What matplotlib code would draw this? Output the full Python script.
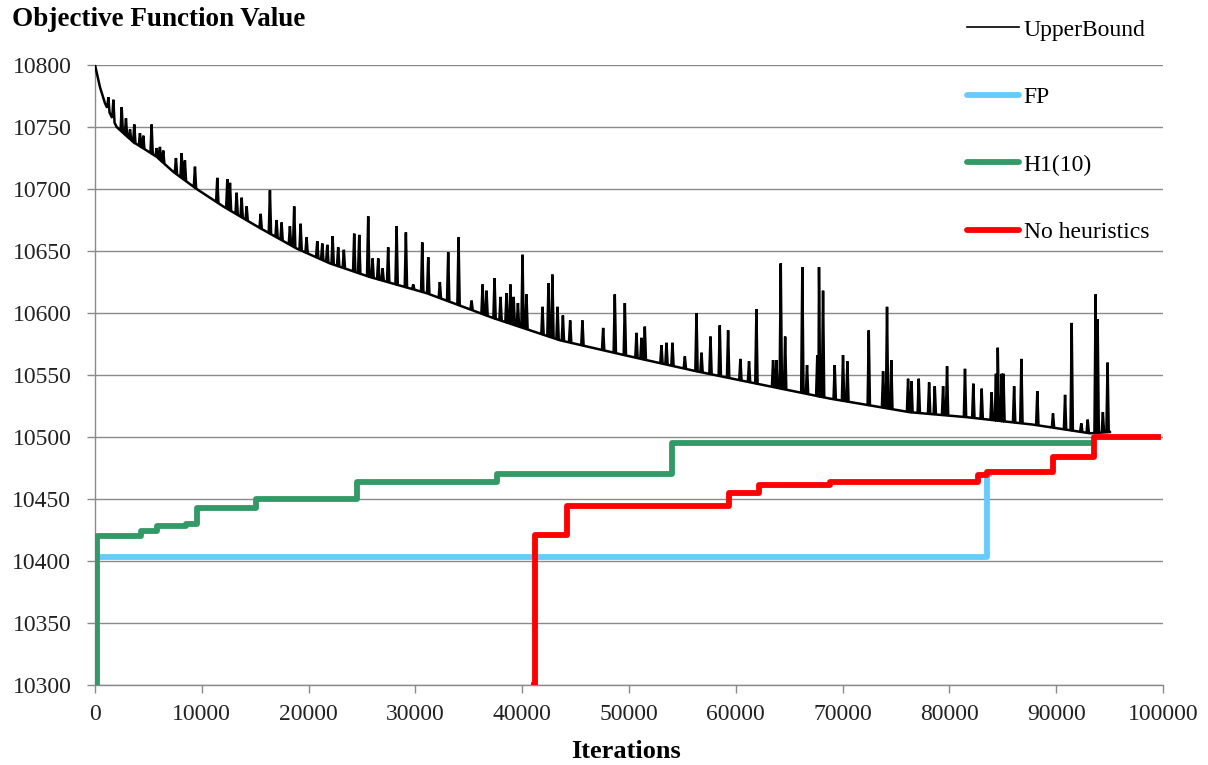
import numpy as np
import matplotlib
matplotlib.use("Agg")
import matplotlib.pyplot as plt
from matplotlib.lines import Line2D

# ---------------- data ----------------
# UpperBound: lower envelope of the decaying curve
ub_base_x = [0, 470, 940, 2030, 3560, 5770, 7310, 9520, 12000, 15140, 18880,
             22000, 25750, 31050, 37270, 43540, 50090, 56320, 62530, 68800,
             76290, 81610, 87830, 93160, 95030]
ub_base_y = [10800, 10782, 10769, 10750, 10738, 10726, 10714, 10700, 10686,
             10670, 10652, 10640, 10629, 10616, 10596, 10578, 10565, 10553,
             10542, 10531, 10520, 10516, 10510, 10503, 10504]

# UpperBound spikes: iteration and peak value
ub_spike_x = [1250, 1720, 2500, 2900, 3280, 3680, 4210, 4520, 5300, 5770, 6080,
              6390, 7580, 8110, 8420, 9360, 11450, 12390, 12640, 13260, 13730,
              14200, 15510, 16380, 17000, 17470, 18250, 18650, 19250, 19810,
              20810, 21280, 21750, 22250, 22770, 23300, 24270, 24740, 25580,
              25990, 26520, 26930, 27450, 28240, 29110, 29800, 30640, 31200,
              32290, 33070, 34040, 35260, 36290, 36660, 37410, 37970, 38530,
              38900, 39200, 39600, 40030, 40400, 41900, 42460, 42830, 43310,
              43810, 44490, 45640, 47580, 48670, 49610,
              50700, 51170, 51480, 53040, 53510, 54070, 55230, 56320, 56790,
              57630, 58500, 59280, 60430, 61240, 61930, 63490, 63800, 64210,
              64620, 66230, 66670, 67630, 67790, 68170, 69260, 70040, 70450,
              72450, 73790, 74160, 74560,
              76130, 76450, 77130, 78100, 78630, 79410, 79780, 81460, 82240,
              83020, 83950, 84360, 84530, 84900, 85060, 86060, 86740, 88230,
              89700, 90830, 91450, 92350, 92950, 93690, 93880, 94370, 94810]
ub_spike_y = [10774, 10772, 10766, 10757, 10748, 10752, 10745, 10743, 10752, 10733, 10734,
              10731, 10725, 10729, 10723, 10718, 10709, 10708, 10705, 10697, 10693,
              10686, 10680, 10699, 10675, 10673, 10670, 10686, 10672, 10661,
              10658, 10656, 10655, 10662, 10653, 10651, 10664, 10663, 10678,
              10644, 10644, 10636, 10653, 10670, 10665, 10623, 10657, 10645,
              10625, 10649, 10661, 10610, 10623, 10618, 10628, 10613, 10616,
              10623, 10613, 10608, 10647, 10615, 10605, 10624, 10631, 10605,
              10598, 10594, 10594, 10588, 10615, 10608,
              10584, 10580, 10589, 10574, 10576, 10576, 10565, 10600, 10568,
              10581, 10590, 10586, 10563, 10561, 10603, 10562, 10562, 10640,
              10581, 10637, 10558, 10566, 10637, 10618, 10558, 10566, 10561,
              10586, 10553, 10605, 10562,
              10547, 10545, 10547, 10544, 10541, 10541, 10557, 10555, 10543,
              10539, 10536, 10551, 10572, 10551, 10551, 10541, 10563, 10537,
              10519, 10534, 10592, 10511, 10514, 10615, 10595, 10520, 10560]

# FP (step changes)
fp_x = [0, 83560, 83700]
fp_y = [10403, 10470, 10470]

# H1(10) (step changes)
h1_x = [0, 150, 4290, 5800, 8480, 9550, 15030, 24500, 37670, 53980, 93300]
h1_y = [10300, 10420, 10424, 10428, 10430, 10443, 10450, 10464, 10470, 10495, 10495]

# No heuristics (step changes)
nh_x = [41060, 41200, 44240, 59400, 62160, 68810, 82700, 83560, 89660, 93520, 99530]
nh_y = [10300, 10421, 10444, 10455, 10461, 10464, 10469, 10472, 10484, 10500, 10500]

labels = ["UpperBound", "FP", "H1(10)", "No heuristics"]
colors = ["#000000", "#66CCFF", "#339966", "#FF0000"]

# ---------------- figure ----------------
W, H = 1208, 765
fig = plt.figure(figsize=(W / 100, H / 100), dpi=100)
ax = fig.add_axes([95 / W, 80 / H, (1163 - 95) / W, (685 - 65) / H])

serif = ["Liberation Serif", "DejaVu Serif"]
plt.rcParams["font.family"] = serif

# build the UpperBound polyline from the envelope and the spikes
hw = 110
pts = []
sx = np.array(ub_spike_x)
for bx, by in zip(ub_base_x, ub_base_y):
    if np.all(np.abs(sx - bx) > hw) or bx == ub_base_x[0]:
        pts.append((bx, by))
for s, p in zip(ub_spike_x, ub_spike_y):
    pts.append((s - hw, np.interp(s - hw, ub_base_x, ub_base_y)))
    pts.append((s, p))
    pts.append((s + hw, np.interp(s + hw, ub_base_x, ub_base_y)))
pts.sort(key=lambda t: t[0])
ubx = [p[0] for p in pts]
uby = [p[1] for p in pts]

ax.plot(ubx, uby, color=colors[0], lw=1.8, zorder=3, solid_joinstyle="miter")
ax.plot(fp_x, fp_y, color=colors[1], lw=4.2, drawstyle="steps-post", zorder=4)
ax.plot(h1_x, h1_y, color=colors[2], lw=4.2, drawstyle="steps-post", zorder=5)
ax.plot(nh_x, nh_y, color=colors[3], lw=4.2, drawstyle="steps-post", zorder=6)

ax.set_xlim(0, 100000)
ax.set_ylim(10300, 10800)
ax.set_xticks(np.arange(0, 100001, 10000))
ax.set_yticks(np.arange(10300, 10801, 50))
ax.grid(axis="y", color="#8a8a8a", lw=1.0)
ax.set_axisbelow(True)
for sp in ["top", "right"]:
    ax.spines[sp].set_visible(False)
for sp in ["left", "bottom"]:
    ax.spines[sp].set_color("#8a8a8a")
    ax.spines[sp].set_linewidth(1.0)
ax.tick_params(axis="both", colors="#8a8a8a", labelcolor="#222222",
               labelsize=17, length=6, width=1.0, direction="out")
ax.tick_params(axis="x", pad=8)
ax.tick_params(axis="y", pad=11)
for t in ax.get_xticklabels() + ax.get_yticklabels():
    t.set_family(serif)

fig.text(12 / W, 1 - 20 / H, "Objective Function Value", fontsize=19.5,
         fontweight="bold", va="center", ha="left", family=serif)
fig.text(626 / W, 1 - 752 / H, "Iterations", fontsize=19,
         fontweight="bold", va="center", ha="center", family=serif)

handles = [Line2D([0], [0], color=colors[0], lw=1.2),
           Line2D([0], [0], color=colors[1], lw=4.2, solid_capstyle="round"),
           Line2D([0], [0], color=colors[2], lw=4.2, solid_capstyle="round"),
           Line2D([0], [0], color=colors[3], lw=4.2, solid_capstyle="round")]
fig.legend(handles, labels, loc="upper left", bbox_to_anchor=(967 / W, 1 - 19 / H),
           frameon=False, borderpad=0, borderaxespad=0,
           labelspacing=1.95, handlelength=2.2, handletextpad=0.2,
           prop={"family": serif, "size": 17})

fig.savefig("out.png", dpi=100)
